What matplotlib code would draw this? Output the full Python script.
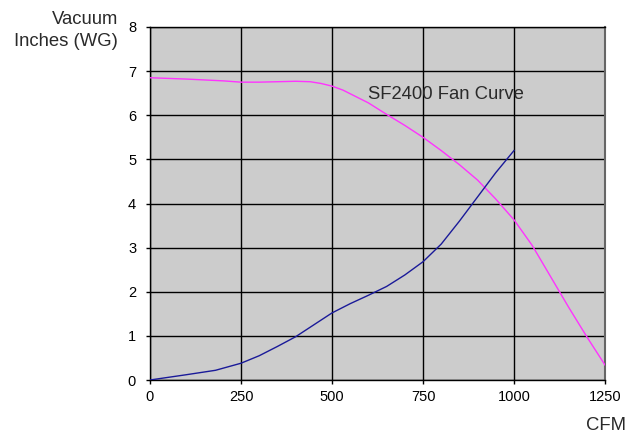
import matplotlib.pyplot as plt
import numpy as np

plt.rcParams['font.family'] = ['Liberation Sans', 'DejaVu Sans']

# fan curve (magenta) and system curve (blue), CFM vs inches WG
fan_cfm = [0, 100, 200, 250, 300, 350, 400, 440, 470, 500, 530, 600, 650, 700,
           750, 800, 850, 900, 950, 1000, 1050, 1100, 1150, 1200, 1250]
fan_wg = [6.85, 6.82, 6.78, 6.75, 6.75, 6.76, 6.77, 6.76, 6.72, 6.66, 6.57,
          6.28, 6.02, 5.77, 5.5, 5.2, 4.88, 4.53, 4.1, 3.63, 3.05, 2.35, 1.65,
          0.98, 0.34]

sys_cfm = [0, 100, 180, 250, 300, 350, 400, 450, 500, 550, 600, 650, 700, 750,
           800, 850, 900, 950, 1000]
sys_wg = [0, 0.12, 0.22, 0.38, 0.55, 0.76, 0.98, 1.25, 1.52, 1.73, 1.92, 2.12,
          2.38, 2.68, 3.08, 3.6, 4.15, 4.7, 5.2]

x_ticks = [0, 250, 500, 750, 1000, 1250]
y_ticks = [0, 1, 2, 3, 4, 5, 6, 7, 8]

fig = plt.figure(figsize=(6.41, 4.34), dpi=100)
ax = fig.add_axes([150/641, 1-380/434, 455/641, 353/434])
ax.set_facecolor('#cccccc')

ax.plot(fan_cfm, fan_wg, color='#ff33ff', lw=1.0, zorder=3)
ax.plot(sys_cfm, sys_wg, color='#1a1a99', lw=1.0, zorder=3)

ax.set_xlim(0, 1250)
ax.set_ylim(0, 8)
ax.set_xticks(x_ticks)
ax.set_yticks(y_ticks)
ax.grid(True, color='black', lw=1.0)
ax.set_axisbelow(True)

for s in ['left', 'top', 'bottom']:
    ax.spines[s].set_color('black')
    ax.spines[s].set_linewidth(1.0)
ax.spines['right'].set_color('#666666')
ax.spines['right'].set_linewidth(1.5)

ax.tick_params(axis='both', direction='out', length=3, width=1, labelsize=10.5,
               colors='black')
ax.tick_params(axis='y', pad=7)
ax.tick_params(axis='x', pad=4)

ax.text(599, 6.46, 'SF2400 Fan Curve', fontsize=13.3, color='#2a2a2a',
        ha='left', va='center')

fig.text(118/641, 1-20/434, 'Vacuum', fontsize=13.3, color='#2a2a2a',
         ha='right', va='center')
fig.text(118/641, 1-42/434, 'Inches (WG)', fontsize=13.3, color='#2a2a2a',
         ha='right', va='center')
fig.text(626/641, 1-425/434, 'CFM', fontsize=13.3, color='#2a2a2a',
         ha='right', va='center')

fig.savefig('out.png', dpi=100)
